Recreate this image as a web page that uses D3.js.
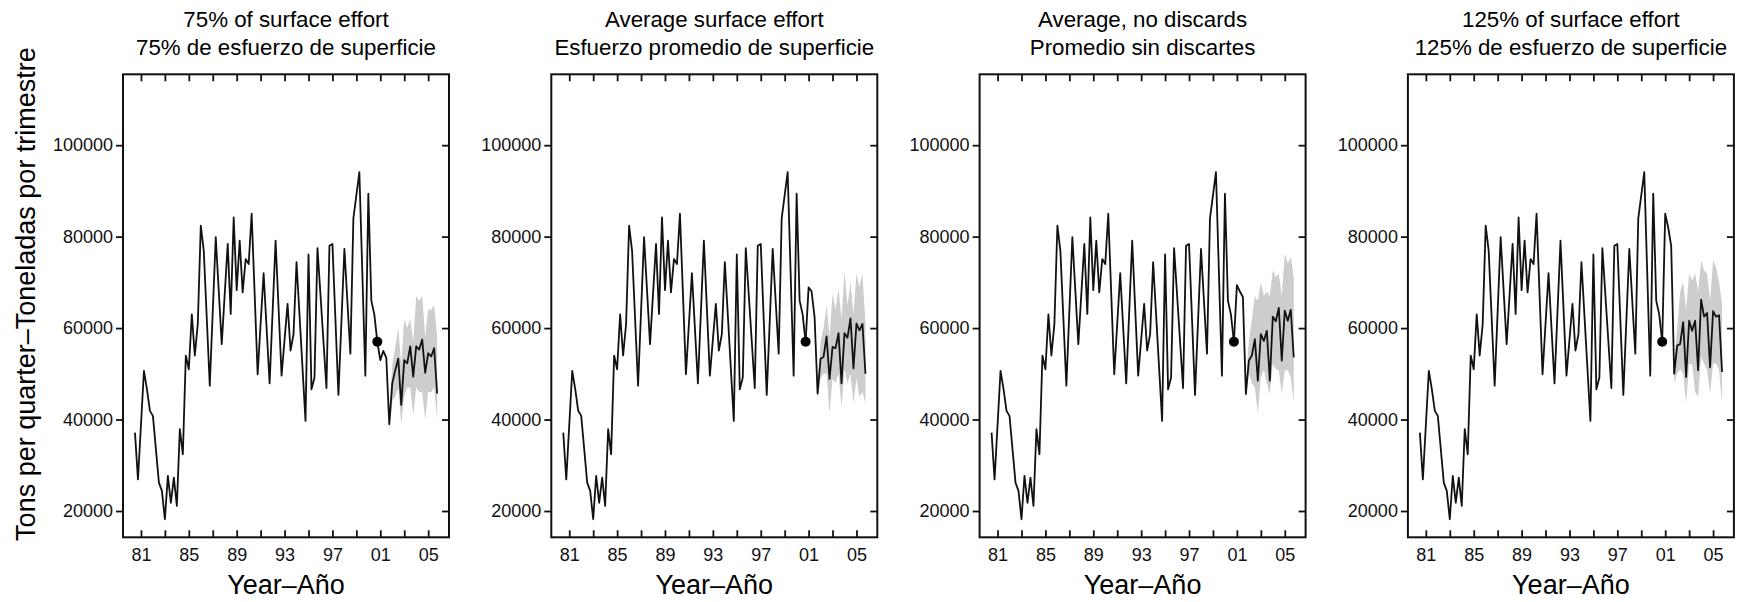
<!DOCTYPE html>
<html>
<head>
<meta charset="utf-8">
<script src="https://cdn.jsdelivr.net/npm/d3@7"></script>
<style>
  body { margin: 0; background: #fff; }
  svg { display: block; font-family: "Liberation Sans", Arial, Helvetica, sans-serif; }
</style>
</head>
<body>
<svg id="chart" width="1737" height="602"></svg>
<script>
// panel titles (English / Spanish)
const titlesEn = ['75% of surface effort', 'Average surface effort', 'Average, no discards', '125% of surface effort'];
const titlesEs = ['75% de esfuerzo de superficie', 'Esfuerzo promedio de superficie', 'Promedio sin discartes', '125% de esfuerzo de superficie'];

const yTicks = [20000, 40000, 60000, 80000, 100000];
const xTicks = [1981, 1983, 1985, 1987, 1989, 1991, 1993, 1995, 1997, 1999, 2001, 2003, 2005];
const xLabels = [1981, 1985, 1989, 1993, 1997, 2001, 2005];

const histYears = [1980.5, 1980.75, 1981.25, 1981.5, 1981.75, 1982, 1982.5, 1982.75, 1983, 1983.25,
  1983.5, 1983.75, 1984, 1984.25, 1984.5, 1984.75, 1985, 1985.25, 1985.5, 1985.75,
  1986, 1986.25, 1986.75, 1987.25, 1987.75, 1988.25, 1988.5, 1988.75, 1989, 1989.25,
  1989.5, 1989.75, 1990, 1990.25, 1990.75, 1991.25, 1991.75, 1992.25, 1992.75, 1993.25,
  1993.5, 1993.75, 1994, 1994.75, 1995, 1995.25, 1995.5, 1995.75, 1996.5, 1996.75,
  1997, 1997.5, 1998, 1998.5, 1998.75, 1999.25, 1999.75, 2000, 2000.25, 2000.5, 2000.75];
const histTons = [37150, 26900, 50660, 46650, 41900, 40800, 26200, 24400, 18200, 27700,
  21800, 27300, 21100, 37900, 32400, 54000, 51000, 63000, 54000, 60900,
  82400, 76900, 47400, 79900, 56500, 78400, 63100, 84200, 68300, 79100,
  67800, 75100, 74000, 85000, 49900, 72000, 47900, 79100, 49600, 65300,
  55100, 58700, 74400, 39700, 76100, 46600, 49200, 77500, 46900, 78000,
  78400, 45400, 77300, 54400, 84000, 94100, 49600, 89400, 66000, 63000, 57000];

// projections 2000.75 - 2005.75
const projYears = [2000.75, 2001, 2001.25, 2001.5, 2001.75, 2002, 2002.25, 2002.5, 2002.75, 2003, 2003.25,
  2003.5, 2003.75, 2004, 2004.25, 2004.5, 2004.75, 2005, 2005.25, 2005.5, 2005.75];
const proj75 = [57000, 53000, 55000, 53500, 39000, 47900, 50800, 53300, 43200, 53000, 52300,
  56000, 49400, 56000, 55300, 57500, 50200, 54500, 53800, 55600, 45700];
const projAvg = [57000, 68900, 68000, 62400, 45700, 53300, 53700, 58200, 48900, 55900, 55600,
  58900, 47900, 58900, 57900, 62100, 51200, 61000, 59500, 60900, 50000];
const projNoDisc = [57000, 69400, 68000, 66800, 45600, 52900, 54000, 57600, 48500, 58700, 57200,
  59400, 48500, 62500, 61500, 64400, 52900, 63800, 61600, 64000, 53600];
const proj125 = [57000, 85000, 82000, 78000, 50000, 56200, 56500, 61300, 49300, 61600, 59400,
  61600, 50800, 66200, 62500, 63300, 51400, 63700, 62500, 62800, 50400];

// confidence band 2001.75 - 2005.75
const bandYears = projYears.slice(4);
const low75 = [37000, 44000, 45000, 47000, 39000, 45000, 47000, 47000, 41000, 47000, 46000, 46000, 40000, 46000, 46000, 47000, 40000];
const high75 = [42000, 52000, 56000, 60000, 52000, 62000, 60000, 62000, 57000, 67000, 66000, 67000, 58000, 64000, 64000, 65000, 58000];
const lowAvg = [44000, 49000, 50000, 50000, 41500, 49000, 48000, 50000, 42700, 51000, 48000, 50000, 43500, 49000, 45000, 46000, 43500];
const highAvg = [47000, 57000, 60000, 65000, 58000, 67500, 64000, 68700, 62000, 72300, 65000, 70000, 63000, 72000, 69000, 72000, 61000];
const lowNoDisc = [44000, 50000, 48000, 47000, 41300, 49300, 50800, 48000, 45600, 52200, 51000, 50800, 45600, 50800, 50800, 49300, 43800];
const highNoDisc = [48000, 57000, 62000, 67000, 66000, 70100, 67000, 68000, 67000, 72700, 71200, 71900, 67000, 76300, 74100, 75600, 71200];
const low125 = [48000, 50000, 51000, 50000, 43500, 52200, 52000, 46000, 45000, 53700, 52200, 50800, 45600, 52200, 52200, 50800, 43500];
const high125 = [52000, 60000, 68000, 70000, 64000, 71900, 70400, 71900, 68000, 74800, 72600, 71900, 66000, 74800, 73300, 70000, 65300];

const projections = [proj75, projAvg, projNoDisc, proj125];
const bandLows = [low75, lowAvg, lowNoDisc, low125];
const bandHighs = [high75, highAvg, highNoDisc, high125];

const svg = d3.select('#chart');
const plotW = 326, plotH = 463, plotTop = 74.3, left0 = 123, step = 428.3;

const x = d3.scaleLinear().domain([1979.5, 2006.74]).range([0, plotW]);
const y = d3.scaleLinear().domain([14250, 115500]).range([plotH, 0]);

const line = d3.line().x(d => x(d[0])).y(d => y(d[1]));
const area = d3.area().x(d => x(d[0])).y0(d => y(d[1])).y1(d => y(d[2]));

titlesEn.forEach((t, i) => {
  const g = svg.append('g').attr('transform', `translate(${left0 + i * step},${plotTop})`);

  g.append('text')
    .attr('x', plotW / 2).attr('y', 27 - plotTop)
    .attr('text-anchor', 'middle')
    .style('font-size', '22.3px')
    .text(t);
  g.append('text')
    .attr('x', plotW / 2).attr('y', 55 - plotTop)
    .attr('text-anchor', 'middle')
    .style('font-size', '22.3px')
    .text(titlesEs[i]);

  // band
  g.append('path')
    .datum(d3.zip(bandYears, bandLows[i], bandHighs[i]))
    .attr('d', area)
    .attr('fill', '#cdcdcd');

  g.append('path')
    .datum(d3.zip(histYears, histTons))
    .attr('d', line)
    .attr('fill', 'none')
    .attr('stroke', '#111')
    .attr('stroke-width', 1.8)
    .attr('stroke-linejoin', 'round');

  g.append('path')
    .datum(d3.zip(projYears, projections[i]))
    .attr('d', line)
    .attr('fill', 'none')
    .attr('stroke', '#111')
    .attr('stroke-width', 1.8)
    .attr('stroke-linejoin', 'round');

  g.append('circle')
    .attr('cx', x(histYears[histYears.length - 1]))
    .attr('cy', y(histTons[histTons.length - 1]))
    .attr('r', 5)
    .attr('fill', '#000');

  // axes
  const axL = g.append('g')
    .call(d3.axisLeft(y).tickValues(yTicks).tickSize(7).tickPadding(3).tickFormat(d3.format('d')));
  const axR = g.append('g').attr('transform', `translate(${plotW},0)`)
    .call(d3.axisLeft(y).tickValues(yTicks).tickSize(7).tickFormat(''));
  const axT = g.append('g')
    .call(d3.axisBottom(x).tickValues(xTicks).tickSize(7).tickFormat(''));
  const axB = g.append('g').attr('transform', `translate(0,${plotH})`)
    .call(d3.axisTop(x).tickValues(xTicks).tickSize(7).tickFormat(''));
  const axLab = g.append('g').attr('transform', `translate(0,${plotH})`)
    .call(d3.axisBottom(x).tickValues(xLabels).tickSize(0).tickPadding(11)
      .tickFormat(d => String(d).slice(2)));

  [axL, axR, axT, axB, axLab].forEach(a => {
    a.select('.domain').remove();
    a.selectAll('line').attr('stroke', '#111').attr('stroke-width', 1.8);
    a.selectAll('text').style('font-size', '18px').attr('fill', '#111');
  });

  g.append('rect')
    .attr('width', plotW).attr('height', plotH)
    .attr('fill', 'none')
    .attr('stroke', '#111')
    .attr('stroke-width', 2);

  g.append('text')
    .attr('x', plotW / 2).attr('y', 594 - plotTop)
    .attr('text-anchor', 'middle')
    .style('font-size', '27px')
    .text('Year–Año');
});

svg.append('text')
  .attr('transform', 'translate(35,294) rotate(-90)')
  .attr('text-anchor', 'middle')
  .style('font-size', '27px')
  .text('Tons per quarter–Toneladas por trimestre');
</script>
</body>
</html>
